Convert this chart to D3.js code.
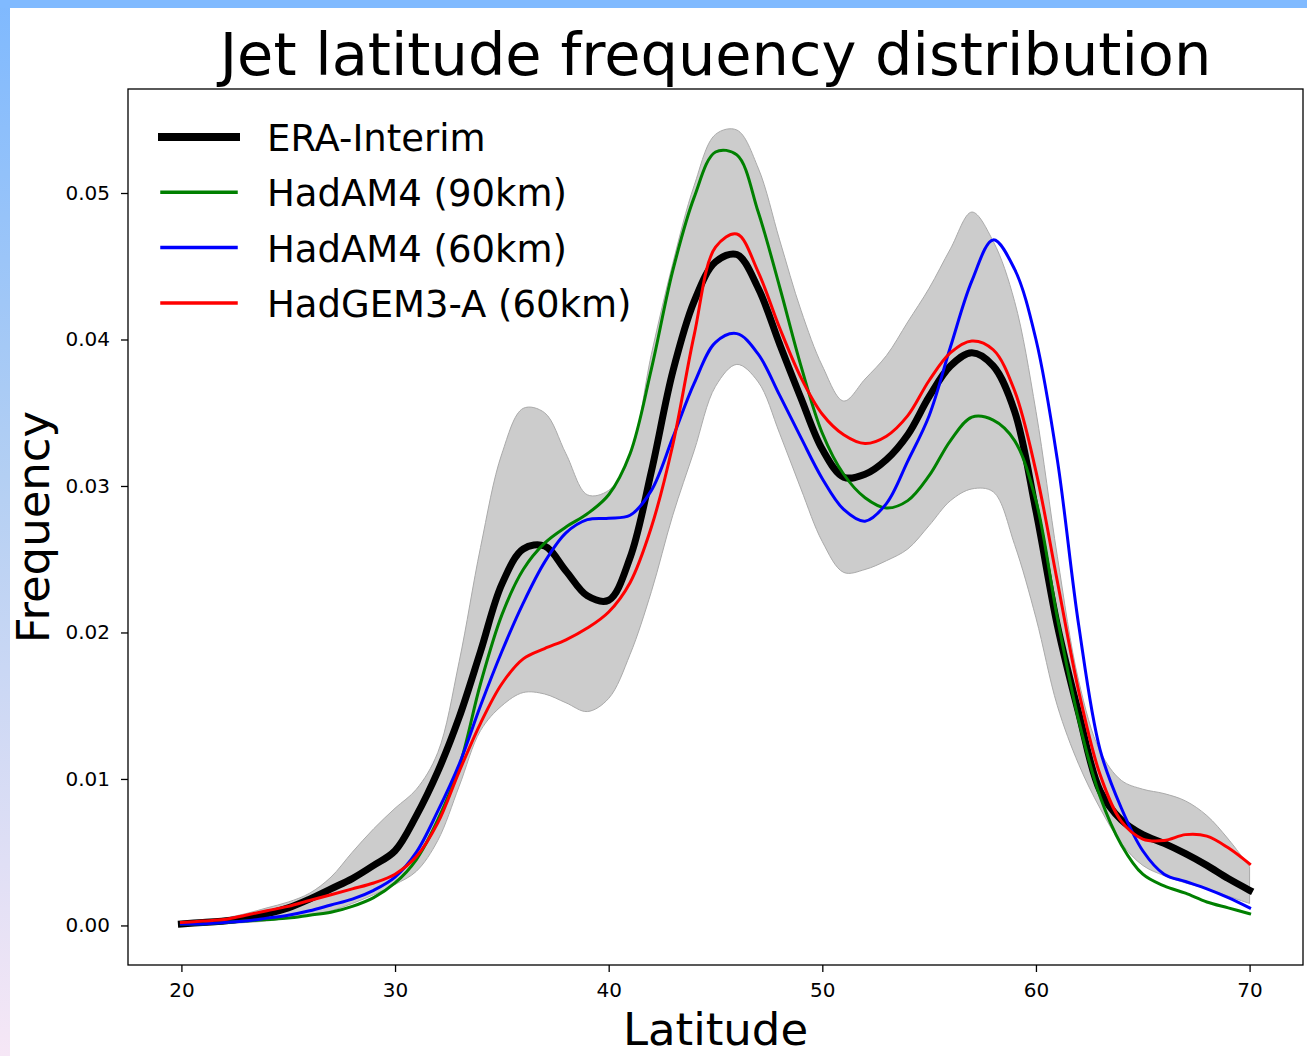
<!DOCTYPE html>
<html>
<head>
<meta charset="utf-8">
<script src="https://cdn.jsdelivr.net/npm/d3@7"></script>
<style>
  html, body { margin: 0; padding: 0; background: #fff; }
  svg text { font-family: "DejaVu Sans", sans-serif; fill: #000; }
  .axis line { stroke: #000; stroke-width: 1.3; }
  .axis path { display: none; }
</style>
</head>
<body>
<script>
// latitude sampling (degrees)
var lats = [20,21,22,23,24,25,26,27,28,29,30,31,32,33,34,35,36,37,38,39,40,
  41,42,43,44,45,46,47,48,49,50,51,52,53,54,55,56,57,58,59,60,
  61,62,63,64,65,66,67,68,69,70];

var eraInterim = [0.0001,0.0002,0.0003,0.0005,0.0008,0.0012,0.0018,0.0025,0.0032,0.0041,0.0051,
  0.0075,0.0105,0.0142,0.0187,0.0233,0.0257,0.0259,0.0242,0.0225,0.0222,
  0.0251,0.0310,0.0378,0.0426,0.0453,0.0458,0.0435,0.0397,0.0360,0.0325,
  0.0306,0.0308,0.0318,0.0335,0.0361,0.0382,0.0391,0.0382,0.0351,0.0283,
  0.0205,0.0145,0.0092,0.0072,0.0062,0.0056,0.0049,0.0041,0.0032,0.0024];

var hadam90 = [0.0001,0.0001,0.0002,0.0003,0.0004,0.0005,0.0007,0.0009,0.0013,0.0019,0.0029,
  0.0045,0.0072,0.0108,0.0165,0.0212,0.0243,0.0261,0.0272,0.0281,0.0294,
  0.0322,0.0380,0.0447,0.0497,0.0528,0.0526,0.0487,0.0436,0.0382,0.0336,
  0.0308,0.0292,0.0285,0.0290,0.0307,0.0331,0.0347,0.0345,0.0331,0.0290,
  0.0210,0.0140,0.0088,0.0055,0.0035,0.0027,0.0022,0.0016,0.0012,0.0008];

var hadam60 = [0.0001,0.0001,0.0002,0.0003,0.0005,0.0007,0.0010,0.0014,0.0018,0.0024,0.0033,
  0.0050,0.0078,0.0110,0.0150,0.0187,0.0220,0.0248,0.0268,0.0277,0.0278,
  0.0280,0.0297,0.0333,0.0370,0.0398,0.0404,0.0390,0.0362,0.0333,0.0305,
  0.0284,0.0276,0.0288,0.0317,0.0348,0.0395,0.0440,0.0468,0.0448,0.0400,
  0.0318,0.0205,0.0120,0.0080,0.0051,0.0035,0.0030,0.0025,0.0019,0.0012];

var hadgem60 = [0.0002,0.0003,0.0004,0.0007,0.0010,0.0013,0.0017,0.0021,0.0025,0.0029,0.0035,
  0.0047,0.0070,0.0105,0.0138,0.0165,0.0182,0.0189,0.0195,0.0203,0.0214,
  0.0234,0.0272,0.0328,0.0403,0.0463,0.0472,0.0446,0.0408,0.0374,0.0349,
  0.0335,0.0329,0.0334,0.0348,0.0372,0.0391,0.0399,0.0393,0.0365,0.0310,
  0.0235,0.0160,0.0103,0.0071,0.0059,0.0058,0.0062,0.0061,0.0053,0.0042];

// spread of the reanalysis (grey band)
var bandUpper = [0.0002,0.0003,0.0005,0.0008,0.0012,0.0016,0.0022,0.0033,0.0050,0.0066,0.0080,
  0.0093,0.0118,0.0180,0.0258,0.0322,0.0353,0.0350,0.0322,0.0294,0.0297,
  0.0320,0.0390,0.0452,0.0505,0.0540,0.0543,0.0517,0.0468,0.0420,0.0382,
  0.0358,0.0373,0.0389,0.0412,0.0435,0.0462,0.0487,0.0467,0.0426,0.0351,
  0.0252,0.0167,0.0119,0.0099,0.0093,0.0090,0.0085,0.0075,0.0059,0.0040];

var bandLower = [0.0000,0.0000,0.0001,0.0002,0.0003,0.0005,0.0007,0.0010,0.0015,0.0021,0.0028,
  0.0037,0.0058,0.0095,0.0133,0.0150,0.0159,0.0158,0.0152,0.0146,0.0155,
  0.0185,0.0228,0.0280,0.0324,0.0368,0.0383,0.0371,0.0336,0.0298,0.0262,
  0.0241,0.0243,0.0249,0.0257,0.0273,0.0290,0.0298,0.0296,0.0260,0.0210,
  0.0150,0.0110,0.0080,0.0056,0.0041,0.0034,0.0029,0.0025,0.0020,0.0015];

var seriesNames = ["ERA-Interim", "HadAM4 (90km)", "HadAM4 (60km)", "HadGEM3-A (60km)"];
var seriesColors = ["#000000", "#008000", "#0000ff", "#ff0000"];
var seriesWidths = [7, 3, 3, 3];
var seriesValues = [eraInterim, hadam90, hadam60, hadgem60];

var xTicks = [20, 30, 40, 50, 60, 70];
var yTicks = [0.00, 0.01, 0.02, 0.03, 0.04, 0.05];

var W = 1307, H = 1056;
var plot = {left: 128, right: 1303, top: 89, bottom: 965};

var svg = d3.select("body").append("svg")
  .attr("width", W)
  .attr("height", H);

// page border (blue strip on top, gradient strip on the left)
var defs = svg.append("defs");
var grad = defs.append("linearGradient")
  .attr("id", "sideGrad")
  .attr("x1", 0).attr("y1", 0).attr("x2", 0).attr("y2", 1);
grad.append("stop").attr("offset", "0%").attr("stop-color", "#7fb9fe");
grad.append("stop").attr("offset", "45%").attr("stop-color", "#b3cff3");
grad.append("stop").attr("offset", "100%").attr("stop-color", "#f6e7f6");

svg.append("rect").attr("x", 0).attr("y", 0).attr("width", 10).attr("height", H)
  .attr("fill", "url(#sideGrad)");
svg.append("rect").attr("x", 0).attr("y", 0).attr("width", W).attr("height", 8)
  .attr("fill", "#80baff");

var x = d3.scaleLinear()
  .domain([17.5, 72.5])
  .range([plot.left, plot.right]);

var y = d3.scaleLinear()
  .domain([-0.0027, 0.0571])
  .range([plot.bottom, plot.top]);

var band = d3.area()
  .x(function(d, i) { return x(lats[i]); })
  .y0(function(d, i) { return y(bandLower[i]); })
  .y1(function(d, i) { return y(bandUpper[i]); })
  .curve(d3.curveCatmullRom.alpha(0.5));

svg.append("path")
  .datum(lats)
  .attr("d", band)
  .attr("fill", "#cccccc")
  .attr("stroke", "#aaaaaa")
  .attr("stroke-width", 1);

var line = d3.line()
  .x(function(d, i) { return x(lats[i]); })
  .y(function(d) { return y(d); })
  .curve(d3.curveCatmullRom.alpha(0.5));

seriesValues.forEach(function(vals, k) {
  svg.append("path")
    .datum(vals)
    .attr("d", line)
    .attr("fill", "none")
    .attr("stroke", seriesColors[k])
    .attr("stroke-width", seriesWidths[k])
    .attr("stroke-linecap", "square")
    .attr("stroke-linejoin", "round");
});

// frame
svg.append("rect")
  .attr("x", plot.left).attr("y", plot.top)
  .attr("width", plot.right - plot.left)
  .attr("height", plot.bottom - plot.top)
  .attr("fill", "none")
  .attr("stroke", "#000")
  .attr("stroke-width", 1.3);

var xAxis = d3.axisBottom(x).tickValues(xTicks).tickSize(7).tickPadding(11)
  .tickFormat(d3.format("d"));
var yAxis = d3.axisLeft(y).tickValues(yTicks).tickSize(7).tickPadding(11)
  .tickFormat(d3.format(".2f"));

svg.append("g")
  .attr("class", "x axis")
  .attr("transform", "translate(0," + plot.bottom + ")")
  .call(xAxis)
  .selectAll("text").style("font-size", "20px");

svg.append("g")
  .attr("class", "y axis")
  .attr("transform", "translate(" + plot.left + ",0)")
  .call(yAxis)
  .selectAll("text").style("font-size", "20px");

// title and axis labels
svg.append("text")
  .attr("x", (plot.left + plot.right) / 2)
  .attr("y", 75)
  .attr("text-anchor", "middle")
  .style("font-size", "59px")
  .text("Jet latitude frequency distribution");

svg.append("text")
  .attr("x", (plot.left + plot.right) / 2)
  .attr("y", 1045)
  .attr("text-anchor", "middle")
  .style("font-size", "45px")
  .text("Latitude");

svg.append("text")
  .attr("transform", "translate(49," + ((plot.top + plot.bottom) / 2) + ") rotate(-90)")
  .attr("text-anchor", "middle")
  .style("font-size", "45px")
  .text("Frequency");

// legend
var legend = svg.append("g").attr("class", "legend");
seriesNames.forEach(function(name, k) {
  var ly = 137 + k * 55.3;
  legend.append("line")
    .attr("x1", 162).attr("x2", 236)
    .attr("y1", ly).attr("y2", ly)
    .attr("stroke", seriesColors[k])
    .attr("stroke-width", k === 0 ? 8 : 3.5)
    .attr("stroke-linecap", "square");
  legend.append("text")
    .attr("x", 267)
    .attr("y", ly + 14)
    .style("font-size", "37px")
    .text(name);
});
</script>
</body>
</html>
